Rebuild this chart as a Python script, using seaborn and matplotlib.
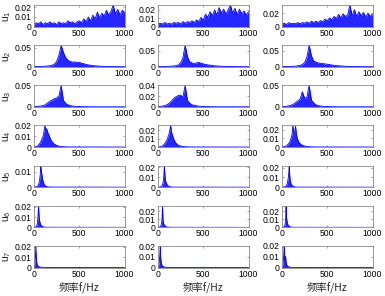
import numpy as np
import matplotlib
matplotlib.use('Agg')
import matplotlib.pyplot as plt
import seaborn as sns

# frequency grids (Hz): coarse for wideband modes, finer for low-frequency modes
f_hi = np.arange(0, 1001, 25)
f_mid = np.append(np.arange(0, 401, 10), 1000)
f_lo = np.append(np.arange(0, 201, 5), 1000)

SCALE = 1e-3  # values below are amplitudes in units of 1e-3

# ---- u1 (grid f_hi) ----
u1_a = [2, 4, 3, 5, 2, 4, 3, 5, 3, 4,
        2, 5, 3, 4, 3, 6, 4, 5, 3, 5,
        6, 4, 8, 5, 10, 6, 12, 8, 15, 9,
        14, 11, 17, 12, 16, 22.5, 13, 18, 12, 17,
        15]
u1_b = [3, 4, 3, 5, 3, 4, 3, 5, 4, 5,
        3, 6, 4, 6, 5, 7, 5, 8, 6, 11,
        8, 15, 11, 18, 13, 20, 14, 23, 16, 21,
        15, 20, 26, 16, 22, 14, 21, 15, 19, 14,
        18]
u1_c = [4, 5, 3, 6, 4, 5, 4, 6, 4, 6,
        5, 7, 5, 8, 6, 8, 6, 9, 7, 11,
        9, 13, 10, 15, 12, 18, 13, 19, 15, 17,
        32, 16, 25, 15, 22, 16, 21, 14, 20, 15,
        19]
# ---- u2 (grid f_hi) ----
u2_a = [0.3, 0.5, 0.8, 1, 1.2, 1.5, 2, 2.5, 4, 7,
        14, 30, 57, 38, 24, 17, 14, 12, 13, 11,
        12, 9, 8, 6, 5, 4, 3, 2.5, 2, 1.5,
        1.2, 1, 0.8, 0.6, 0.5, 0.4, 0.3, 0.3, 0.2, 0.2,
        0.2]
u2_b = [0.3, 0.5, 0.8, 1, 1.2, 1.5, 2, 2.5, 3.5, 6,
        12, 28, 68, 32, 16, 12, 10, 12, 14, 11,
        9, 7, 6, 5, 4, 3, 2.5, 2, 1.5, 1.2,
        1, 0.8, 0.6, 0.5, 0.4, 0.3, 0.3, 0.2, 0.2, 0.2,
        0.2]
u2_c = [0.3, 0.5, 0.8, 1, 1.2, 1.5, 2, 3, 4, 7,
        13, 30, 68, 35, 18, 15, 12, 11, 10, 9,
        8, 7, 5.5, 4.5, 3.5, 3, 2.5, 2, 1.5, 1.2,
        1, 0.8, 0.6, 0.5, 0.4, 0.3, 0.3, 0.2, 0.2, 0.2,
        0.2]
# ---- u3 (grid f_hi) ----
u3_a = [0.5, 1, 1.5, 2, 3, 5, 9, 13, 16, 19,
        21, 25, 50, 15, 8, 5, 3, 2, 1.5, 1,
        0.8, 0.6, 0.5, 0.4, 0.3, 0.3, 0.2, 0.2, 0.2, 0.2,
        0.2, 0.2, 0.2, 0.2, 0.2, 0.2, 0.2, 0.2, 0.2, 0.2,
        0.2]
u3_b = [0.5, 1, 1.5, 2.5, 4, 7, 11, 16, 19, 21,
        22, 18, 40, 12, 7, 4, 3, 2, 1.5, 1,
        0.8, 0.6, 0.5, 0.4, 0.3, 0.3, 0.2, 0.2, 0.2, 0.2,
        0.2, 0.2, 0.2, 0.2, 0.2, 0.2, 0.2, 0.2, 0.2, 0.2,
        0.2]
u3_c = [0.5, 1, 1.5, 2.5, 4, 6, 10, 14, 18, 35,
        20, 22, 50, 16, 9, 5, 3, 2, 1.5, 1,
        0.8, 0.6, 0.5, 0.4, 0.3, 0.3, 0.2, 0.2, 0.2, 0.2,
        0.2, 0.2, 0.2, 0.2, 0.2, 0.2, 0.2, 0.2, 0.2, 0.2,
        0.2]
# ---- u4 (grid f_mid) ----
u4_a = [0, 0.2, 0.3, 0.5, 1, 2, 3, 4, 6, 8,
        10, 14, 20, 16, 17, 14, 12, 10, 8, 6,
        5, 4, 3, 2.5, 2, 1.5, 1.2, 1, 0.8, 0.6,
        0.5, 0.4, 0.3, 0.3, 0.2, 0.2, 0.2, 0.1, 0.1, 0.1,
        0.1, 0]
u4_b = [0, 0.2, 0.3, 0.5, 1, 1.5, 2.5, 3.5, 5, 7,
        9, 12, 15, 20, 26, 18, 14, 11, 8, 6,
        4.5, 3.5, 2.5, 2, 1.5, 1.2, 1, 0.8, 0.6, 0.5,
        0.4, 0.3, 0.3, 0.2, 0.2, 0.2, 0.1, 0.1, 0.1, 0.1,
        0.1, 0]
u4_c = [0, 0.2, 0.3, 0.5, 1, 1.5, 2.5, 3.5, 5, 7,
        10, 14, 25, 18, 17, 24, 14, 10, 7, 5,
        4, 3, 2.5, 2, 1.5, 1.2, 1, 0.8, 0.6, 0.5,
        0.4, 0.3, 0.3, 0.2, 0.2, 0.2, 0.1, 0.1, 0.1, 0.1,
        0.1, 0]
# ---- u5 (grid f_lo) ----
u5_a = [0, 0, 0.1, 0.1, 0.2, 0.3, 0.4, 0.6, 0.8, 1.2,
        1.8, 2.5, 4, 6, 9, 14, 11, 9, 7, 5,
        4, 3, 2.2, 1.6, 1.2, 0.9, 0.7, 0.5, 0.4, 0.3,
        0.3, 0.2, 0.2, 0.2, 0.1, 0.1, 0.1, 0.1, 0.1, 0.1,
        0.1, 0]
u5_b = [0, 0, 0.1, 0.1, 0.2, 0.3, 0.5, 0.7, 1, 1.5,
        2.5, 4, 7, 12, 21.5, 14, 9, 6, 4.5, 3.5,
        2.5, 2, 1.5, 1.2, 0.9, 0.7, 0.5, 0.4, 0.3, 0.3,
        0.2, 0.2, 0.2, 0.1, 0.1, 0.1, 0.1, 0.1, 0.1, 0.1,
        0.1, 0]
u5_c = [0, 0, 0.1, 0.1, 0.2, 0.3, 0.4, 0.6, 0.9, 1.3,
        2, 3, 4.5, 7, 10, 15, 22, 12, 8, 5,
        3.5, 2.5, 2, 1.5, 1.1, 0.8, 0.6, 0.5, 0.4, 0.3,
        0.3, 0.2, 0.2, 0.2, 0.1, 0.1, 0.1, 0.1, 0.1, 0.1,
        0.1, 0]
# ---- u6 (grid f_lo) ----
u6_a = [0, 0.1, 0.2, 0.3, 0.5, 0.8, 1.5, 3, 6, 12,
        21, 12, 8, 5, 3.5, 2.5, 1.8, 1.3, 1, 0.8,
        0.5, 0.4, 0.3, 0.3, 0.2, 0.2, 0.2, 0.1, 0.1, 0.1,
        0.1, 0.1, 0.1, 0.1, 0.1, 0.1, 0.1, 0.1, 0.1, 0.1,
        0.1, 0]
u6_b = [0, 0.1, 0.2, 0.3, 0.5, 0.8, 1.5, 3, 6, 11,
        27, 10, 6, 4, 3, 2, 1.5, 1.1, 0.8, 0.6,
        0.5, 0.4, 0.3, 0.3, 0.2, 0.2, 0.2, 0.1, 0.1, 0.1,
        0.1, 0.1, 0.1, 0.1, 0.1, 0.1, 0.1, 0.1, 0.1, 0.1,
        0.1, 0]
u6_c = [0, 0.1, 0.2, 0.3, 0.6, 1, 2, 4, 10, 27,
        13, 8, 5, 3.5, 2.5, 1.8, 1.3, 1, 0.7, 0.5,
        0.4, 0.3, 0.3, 0.2, 0.2, 0.2, 0.1, 0.1, 0.1, 0.1,
        0.1, 0.1, 0.1, 0.1, 0.1, 0.1, 0.1, 0.1, 0.1, 0.1,
        0.1, 0]
# ---- u7 (grid f_lo) ----
u7_a = [0.5, 1.5, 4, 10, 21, 10, 5, 3, 2, 1.4,
        1, 0.8, 0.6, 0.5, 0.4, 0.3, 0.3, 0.2, 0.2, 0.2,
        0.1, 0.1, 0.1, 0.1, 0.1, 0.1, 0.1, 0.1, 0.1, 0.1,
        0.1, 0.1, 0.1, 0.1, 0.1, 0.1, 0.1, 0.1, 0.1, 0.1,
        0.1, 0]
u7_b = [0.5, 1, 3, 6, 12, 20.5, 9, 5, 3, 2,
        1.4, 1, 0.8, 0.6, 0.5, 0.4, 0.3, 0.3, 0.2, 0.2,
        0.1, 0.1, 0.1, 0.1, 0.1, 0.1, 0.1, 0.1, 0.1, 0.1,
        0.1, 0.1, 0.1, 0.1, 0.1, 0.1, 0.1, 0.1, 0.1, 0.1,
        0.1, 0]
u7_c = [0.5, 1, 3, 6, 12, 20, 10, 7, 10, 5,
        3, 2, 1.5, 1, 0.8, 0.6, 0.5, 0.4, 0.3, 0.2,
        0.1, 0.1, 0.1, 0.1, 0.1, 0.1, 0.1, 0.1, 0.1, 0.1,
        0.1, 0.1, 0.1, 0.1, 0.1, 0.1, 0.1, 0.1, 0.1, 0.1,
        0.1, 0]

grids = [f_hi, f_hi, f_hi, f_mid, f_lo, f_lo, f_lo]
modes = [[u1_a, u1_b, u1_c],
         [u2_a, u2_b, u2_c],
         [u3_a, u3_b, u3_c],
         [u4_a, u4_b, u4_c],
         [u5_a, u5_b, u5_c],
         [u6_a, u6_b, u6_c],
         [u7_a, u7_b, u7_c]]
yticks = [[[0, 0.01, 0.02], [0, 0.01, 0.02], [0, 0.02]],
          [[0, 0.05], [0, 0.05], [0, 0.05]],
          [[0, 0.05], [0, 0.02, 0.04], [0, 0.05]],
          [[0, 0.01, 0.02], [0, 0.01, 0.02], [0, 0.01, 0.02]],
          [[0, 0.01], [0, 0.01, 0.02], [0, 0.01, 0.02]],
          [[0, 0.01, 0.02], [0, 0.01, 0.02], [0, 0.01, 0.02]],
          [[0, 0.01, 0.02], [0, 0.01, 0.02], [0, 0.01, 0.02]]]
xticks = [0, 500, 1000]
mode_names = ['u$_1$', 'u$_2$', 'u$_3$', 'u$_4$', 'u$_5$', 'u$_6$', 'u$_7$']
xlabel = '频率f/Hz'

sns.set_theme(style='white')
plt.rcParams['font.family'] = ['Liberation Sans', 'DejaVu Sans']
plt.rcParams['mathtext.fontset'] = 'custom'
plt.rcParams['mathtext.rm'] = 'Liberation Sans'

fig, axes = plt.subplots(7, 3, figsize=(3.85, 2.96), dpi=100)
fig.subplots_adjust(left=34 / 385, right=372.5 / 385, top=1 - 5 / 296,
                    bottom=1 - 267.5 / 296, wspace=0.37, hspace=0.86)

edge = '#8a8a8a'
for r in range(7):
    for c in range(3):
        ax = axes[r, c]
        f = grids[r]
        v = np.array(modes[r][c]) * SCALE
        ax.fill_between(f, 0, v, color='blue', alpha=0.85, lw=0)
        sns.lineplot(x=f, y=v, ax=ax, color='blue', lw=0.6)
        ax.set_xlim(0, 1000)
        ax.set_ylim(0, v.max())
        ax.set_xticks(xticks)
        ax.set_xticklabels([str(t) for t in xticks])
        ax.set_yticks(yticks[r][c])
        ax.set_yticklabels([f'{t:g}' for t in yticks[r][c]])
        ax.tick_params(direction='in', length=1.5, width=0.5, color=edge,
                       labelsize=6.2, pad=1.5, top=True, right=True,
                       bottom=True, left=True, labelcolor='black')
        for s in ax.spines.values():
            s.set_color(edge)
            s.set_linewidth(0.6)
        ax.set_xlabel('')
        ax.set_ylabel('')
        if c == 0:
            ax.set_ylabel(mode_names[r], fontsize=7.5)
            ax.yaxis.set_label_coords(-0.23, 0.5)
        if r == 6:
            ax.set_xlabel(xlabel, fontsize=7.5, labelpad=2,
                          family=['Noto Sans CJK SC', 'DejaVu Sans'])

fig.savefig('out.png', dpi=100)
